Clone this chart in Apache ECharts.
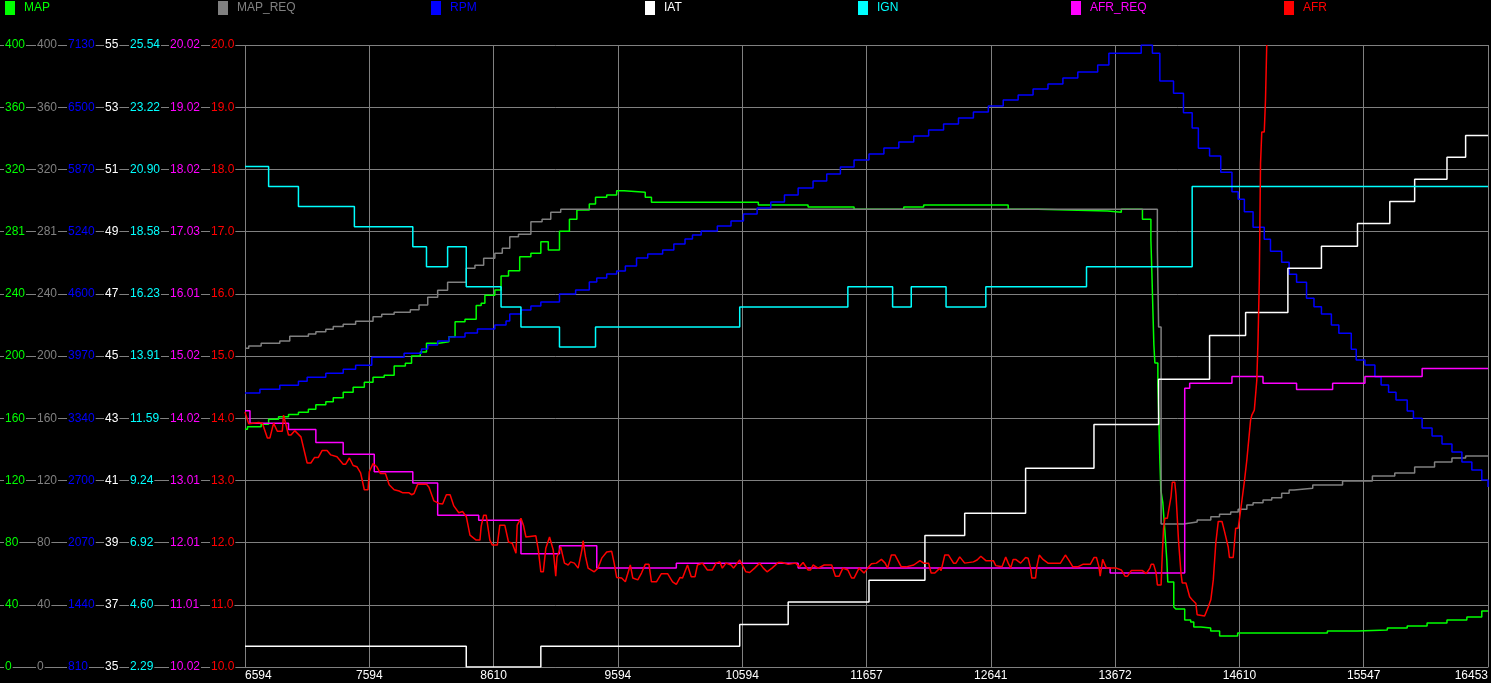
<!DOCTYPE html>
<html><head><meta charset="utf-8">
<script src="https://cdn.jsdelivr.net/npm/echarts@6/dist/echarts.min.js"></script>
<style>html,body{margin:0;padding:0;background:#000;overflow:hidden}#c{width:1491px;height:683px}</style>
</head><body><div id="c"></div>
<script>
// ---------- DATA ----------
const seriesNames = ['MAP','MAP_REQ','RPM','IAT','IGN','AFR_REQ','AFR'];
const seriesColors = ['#00ff00','#808080','#0000ff','#ffffff','#00ffff','#ff00ff','#ff0000'];
// x = sample position (0..1000 across the log window)
const xTickLabels = ['6594','7594','8610','9594','10594','11657','12641','13672','14610','15547','16453'];

const mapTickLabels    = ['0','40','80','120','160','200','240','281','320','360','400'];
const mapReqTickLabels = ['0','40','80','120','160','200','240','281','320','360','400'];
const rpmTickLabels    = ['810','1440','2070','2700','3340','3970','4600','5240','5870','6500','7130'];
const iatTickLabels    = ['35','37','39','41','43','45','47','49','51','53','55'];
const ignTickLabels    = ['2.29','4.60','6.92','9.24','11.59','13.91','16.23','18.58','20.90','23.22','25.54'];
const afrReqTickLabels = ['10.02','11.01','12.01','13.01','14.02','15.02','16.01','17.03','18.02','19.02','20.02'];
const afrTickLabels    = ['10.0','11.0','12.0','13.0','14.0','15.0','16.0','17.0','18.0','19.0','20.0'];

const mapData = [[0,152.9],[2,154.5],[13,156.1],[19,159.3],[27,161.0],[35,162.3],[43,163.8],[51,165.7],[57,168.7],[65,170.6],[71,173.2],[79,176.7],[87,179.9],[96,183.1],[103,186.3],[112,187.6],[120,193.6],[129,195.3],[134,200.0],[141,202.6],[146,208.2],[156,209.2],[164,212.4],[169,222.1],[177,223.6],[186,232.4],[190,233.9],[193,239.0],[201,242.4],[206,251.5],[212,254.9],[221,263.9],[230,266.0],[238,273.5],[244,268.2],[253,280.2],[261,287.9],[267,293.9],[277,297.8],[282,302.1],[291,303.5],[299,306.3],[305,305.3],[322,302.1],[327,298.9],[413,297.1],[453,295.8],[490,294.3],[530,295.8],[546,297.1],[614,294.3],[638,293.3],[694,292.4],[705,294.3],[722,287.9],[728.8,274.6],[729.6,253.4],[730.4,229.6],[731.2,207.1],[732,195.5],[734.4,181.4],[735.2,158.8],[736,133.1],[736.8,113.8],[738.4,105.5],[740,88.1],[741.6,68.8],[742.4,54.7],[747.2,38.6],[748.8,37.3],[756,30.2],[760.8,28.9],[763.3,25.7],[768.9,25.1],[776.9,23.2],[784.1,19.9],[798.6,21.9],[870.8,23.2],[894.9,23.8],[919,25.1],[935,26.4],[951,28.3],[967,30.2],[983,32.2],[995,36.0],[1000,36.0]];

const mapReqData = [[0,205.0],[3,206.4],[13,208.2],[28,209.7],[36,212.7],[51,214.2],[57,215.6],[65,217.2],[71,218.9],[79,220.4],[89,222.3],[103,225.3],[110,226.8],[120,228.1],[133,229.8],[140,232.8],[147,237.8],[155,242.3],[163,247.4],[178,256.4],[185,258.3],[192,262.8],[201,266.0],[207,269.3],[213,276.7],[220,278.3],[230,286.4],[239,287.9],[246,292.4],[254,294.3],[734,268.8],[735,218.7],[737,92.0],[755,93.2],[766,94.5],[777,96.7],[784,98.2],[793,99.7],[799,101.4],[806,104.2],[811,105.7],[819,107.4],[826,108.9],[834,111.7],[840,113.8],[844,114.9],[859,117.0],[883,119.6],[907,122.8],[925,124.8],[941,128.6],[957,131.8],[971,134.4],[982,135.7],[1000,135.7]];

const rpmData = [[0,3594],[12,3632],[28,3672],[43,3713],[50,3754],[65,3794],[79,3835],[89,3876],[102,3957],[128,3998],[142,4041],[147,4082],[155,4122],[164,4163],[177,4204],[187,4244],[201,4285],[210,4326],[213,4397],[222,4437],[230,4478],[238,4519],[253,4600],[266,4641],[277,4722],[283,4763],[291,4803],[299,4834],[306,4885],[315,4966],[324,5006],[336,5047],[345,5108],[354,5159],[360,5200],[367,5240],[380,5291],[391,5342],[401,5413],[412,5474],[423,5535],[434,5606],[445,5677],[457,5748],[468,5819],[479,5891],[490,5962],[502,6023],[514,6084],[526,6145],[538,6206],[550,6267],[562,6327],[574,6388],[586,6449],[598,6510],[610,6571],[622,6622],[634,6683],[646,6734],[658,6795],[670,6856],[686,6927],[695,7046],[721,7130],[730,7046],[736,6764],[747,6639],[755,6442],[762,6287],[767,6081],[776,6002],[785,5837],[794,5640],[799,5562],[804,5436],[811,5278],[820,5156],[825,5034],[834,4922],[840,4800],[846,4719],[854,4556],[860,4471],[866,4397],[874,4285],[880,4201],[890,4038],[894,3929],[901,3879],[909,3760],[914,3675],[920,3601],[926,3523],[935,3411],[940,3337],[947,3238],[955,3157],[963,3076],[971,2995],[979,2893],[987,2812],[995,2710],[1000,2639]];

const iatData = [[0,35.67],[178,35.0],[238,35.67],[398,36.37],[437,37.09],[502,37.79],[547,39.23],[579,39.94],[628,41.39],[683,42.80],[735,44.25],[776,45.66],[805,46.40],[839,47.82],[866,48.53],[895,49.26],[921,49.97],[941,50.68],[967,51.39],[982,52.09],[1000,52.09]];

const ignData = [[0,21.0],[19,20.25],[43,19.5],[88,18.75],[135,18.0],[146,17.25],[163,18.0],[178,16.5],[206,15.75],[222,15.0],[253,14.25],[282,15.0],[398,15.75],[485,16.5],[521,15.75],[536,16.5],[564,15.75],[596,16.5],[677,17.25],[762,20.25],[1000,20.25]];

const afrReqData = [[0,14.14],[4,13.94],[35,13.84],[57,13.63],[79,13.44],[104,13.16],[135,12.98],[155,12.46],[188,12.38],[222,11.84],[253,11.97],[283,11.61],[347,11.69],[445,11.61],[696,11.53],[756,14.50],[760,14.58],[794,14.69],[819,14.58],[846,14.48],[875,14.58],[901,14.69],[947,14.82],[1000,14.82]];

const afrData = [[0,14.10],[3,13.91],[11,13.93],[14,13.92],[18,13.68],[20,13.68],[23,13.92],[26,13.79],[30,13.79],[31,14.05],[35,13.73],[37,13.73],[40,13.80],[45,13.70],[50,13.28],[53,13.28],[56,13.37],[59,13.37],[62,13.48],[66,13.48],[69,13.41],[74,13.38],[79,13.26],[81,13.26],[84,13.36],[87,13.24],[90,13.22],[93,13.12],[96,12.85],[99,12.85],[100,13.14],[103,13.27],[106,13.22],[109,13.11],[113,13.11],[116,12.93],[120,12.85],[124,12.83],[127,12.80],[132,12.80],[134,12.77],[136,12.79],[139,12.94],[146,12.94],[148,12.89],[152,12.67],[156,12.63],[159,12.62],[162,12.77],[165,12.77],[168,12.59],[172,12.48],[175,12.50],[178,12.42],[181,12.12],[186,12.04],[189,12.04],[190,12.26],[192,12.44],[194,12.44],[197,12.04],[199,11.96],[203,11.96],[205,12.28],[209,12.28],[212,12.01],[215,11.99],[218,11.83],[219,12.28],[222,12.39],[224,12.28],[226,12.09],[234,12.11],[236,11.88],[238,11.53],[240,11.53],[242,11.91],[245,12.09],[246,12.09],[248,11.88],[250,11.46],[251,11.77],[254,11.93],[257,11.67],[260,11.64],[262,11.69],[265,11.67],[268,11.59],[271,11.88],[272,12.03],[274,11.77],[276,11.59],[281,11.53],[284,11.59],[287,11.75],[291,11.85],[295,11.86],[297,11.67],[299,11.44],[303,11.43],[306,11.37],[307,11.40],[310,11.64],[312,11.43],[316,11.40],[319,11.51],[322,11.65],[325,11.65],[327,11.37],[331,11.37],[335,11.50],[340,11.50],[344,11.37],[347,11.33],[350,11.44],[352,11.43],[356,11.64],[359,11.45],[362,11.45],[364,11.64],[368,11.67],[372,11.56],[376,11.56],[379,11.67],[382,11.69],[384,11.59],[387,11.67],[391,11.64],[393,11.59],[398,11.72],[403,11.53],[406,11.52],[410,11.59],[414,11.67],[417,11.59],[420,11.53],[424,11.59],[429,11.68],[432,11.68],[437,11.65],[443,11.67],[446,11.61],[449,11.68],[453,11.56],[455,11.56],[457,11.64],[461,11.59],[466,11.64],[472,11.64],[475,11.46],[478,11.46],[481,11.59],[485,11.56],[488,11.43],[490,11.43],[494,11.59],[498,11.51],[501,11.59],[504,11.66],[508,11.67],[512,11.73],[515,11.67],[517,11.59],[520,11.80],[523,11.80],[528,11.61],[532,11.61],[538,11.64],[543,11.71],[546,11.67],[550,11.67],[552,11.51],[555,11.51],[559,11.59],[560,11.55],[563,11.80],[566,11.80],[570,11.67],[572,11.67],[575,11.77],[579,11.67],[586,11.69],[589,11.72],[592,11.78],[596,11.71],[602,11.71],[604,11.63],[609,11.61],[612,11.77],[614,11.67],[616,11.59],[618,11.73],[620,11.73],[624,11.67],[628,11.76],[630,11.75],[632,11.59],[633,11.43],[636,11.43],[637,11.61],[639,11.80],[642,11.73],[646,11.67],[656,11.67],[660,11.80],[663,11.71],[666,11.61],[670,11.61],[674,11.65],[680,11.65],[683,11.76],[685,11.76],[687,11.61],[688,11.46],[690,11.73],[693,11.59],[701,11.59],[705,11.56],[708,11.46],[710,11.46],[713,11.55],[722,11.55],[725,11.50],[728,11.59],[729,11.65],[731,11.65],[733,11.51],[734,11.32],[737,11.32],[738,11.83],[739,12.23],[740,12.39],[742,12.39],[745,12.74],[746,12.97],[748,12.97],[749,12.77],[751,12.04],[753,11.51],[754,11.35],[757,11.35],[760,11.13],[762,11.08],[765,11.02],[766,10.84],[772,10.82],[775,10.97],[777,11.08],[779,11.40],[781,11.99],[783,12.34],[786,12.34],[788,12.18],[791,11.93],[792,11.76],[795,11.76],[796,11.99],[797,12.23],[799,12.23],[801,12.52],[804,12.98],[806,13.33],[809,13.97],[810,14.05],[812,14.13],[814,14.61],[815,15.26],[816,16.20],[817,18.10],[818,18.60],[820,18.60],[821,19.12],[822,20.0]];

// ---------- CHART ----------
const FONT = '"Liberation Sans", Arial, sans-serif';
const GRID_COLOR = '#808080';
const axisDefs = [
  // [name, min, max, labels, color, offset, tickLength, labelMargin]
  ['AFR',     10,    20,    afrTickLabels,    '#ff0000', 0,   39, 35],
  ['AFR_REQ', 10.02, 20.02, afrReqTickLabels, '#ff00ff', 39,  41, 37],
  ['IGN',     2.29,  25.54, ignTickLabels,    '#00ffff', 80,  38, 36],
  ['IAT',     35,    55,    iatTickLabels,    '#ffffff', 118, 27, 23],
  ['RPM',     810,   7130,  rpmTickLabels,    '#0000ff', 145, 36, 33],
  ['MAP_REQ', 0,     400,   mapReqTickLabels, '#808080', 181, 31, 28],
  ['MAP',     0,     400,   mapTickLabels,    '#00ff00', 212, 33, 29]
];
const yAxes = axisDefs.map((d, i) => {
  const [name, min, max, labels, color, offset, tickLen, margin] = d;
  const vals = labels.map((_, k) => min + (max - min) * k / (labels.length - 1));
  return {
    type: 'value', position: 'left', offset: offset, min: min, max: max,
    interval: i === 0 ? 1 : undefined,
    axisLine: {show: false},
    axisTick: {show: true, length: tickLen, customValues: vals, lineStyle: {color: GRID_COLOR, width: 1}},
    axisLabel: {
      customValues: vals, color: color, align: 'left', margin: margin,
      fontSize: 12, fontFamily: FONT, backgroundColor: '#000', padding: [0, 1, 0, 1],
      formatter: v => labels[Math.round((v - min) / (max - min) * (labels.length - 1))]
    },
    splitLine: {show: i === 0, lineStyle: {color: GRID_COLOR, width: 1}}
  };
});

const seriesData = [mapData, mapReqData, rpmData, iatData, ignData, afrReqData, afrData];
const axisOf = {MAP: 6, MAP_REQ: 5, RPM: 4, IAT: 3, IGN: 2, AFR_REQ: 1, AFR: 0};
const stepped = {MAP: true, MAP_REQ: true, RPM: true, IAT: true, IGN: true, AFR_REQ: true, AFR: false};
const series = seriesNames.map((n, i) => ({
  name: n, type: 'line', data: seriesData[i], yAxisIndex: axisOf[n],
  step: stepped[n] ? 'end' : false, showSymbol: false, symbol: 'none',
  lineStyle: {color: seriesColors[i], width: 1.5}, itemStyle: {color: seriesColors[i]},
  emphasis: {disabled: true}, clip: true, animation: false
}));

const legendLefts = [5, 218, 431, 645, 858, 1071, 1284];
const legends = seriesNames.map((n, i) => ({
  data: [n], left: legendLefts[i], top: 1, padding: 0, icon: 'rect',
  itemWidth: 10, itemHeight: 14, selectedMode: false,
  textStyle: {color: seriesColors[i], fontSize: 12, fontFamily: FONT, padding: [0, 0, 0, 4]}
}));

const chart = echarts.init(document.getElementById('c'), null, {renderer: 'canvas'});
chart.setOption({
  backgroundColor: '#000',
  animation: false,
  legend: legends,
  grid: {left: 245, right: 1, top: 45, bottom: 16, containLabel: false},
  xAxis: {
    type: 'value', min: 0, max: 1000, interval: 100,
    axisLine: {show: true, lineStyle: {color: GRID_COLOR}},
    axisTick: {show: false},
    splitLine: {show: true, lineStyle: {color: GRID_COLOR, width: 1}},
    axisLabel: {
      color: '#ffffff', fontSize: 12, fontFamily: FONT, margin: 3,
      alignMinLabel: 'left', alignMaxLabel: 'right',
      formatter: v => xTickLabels[Math.round(v / 100)]
    }
  },
  yAxis: yAxes,
  series: series
});
</script>
</body></html>
